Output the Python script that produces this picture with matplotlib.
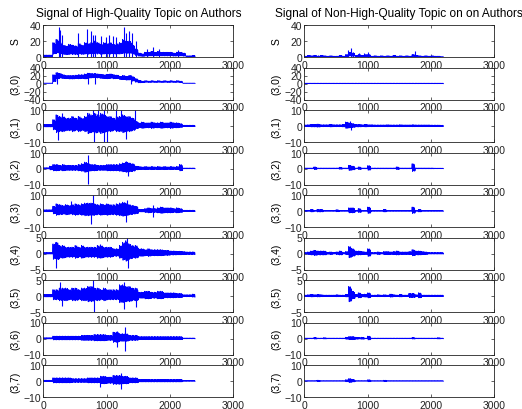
import matplotlib
matplotlib.use("Agg")
import matplotlib.pyplot as plt
import numpy as np

plt.rcParams['font.family'] = ['Liberation Sans', 'DejaVu Sans']

BIN = 50  # width of each envelope bin along x

titles = ["Signal of High-Quality Topic on Authors",
          "Signal of Non-High-Quality Topic on on Authors"]
row_labels = ["S", "(3,0)", "(3,1)", "(3,2)", "(3,3)", "(3,4)", "(3,5)", "(3,6)", "(3,7)"]
ylims = [(0, 40), (-40, 40), (-10, 10), (-10, 10), (-10, 10), (-5, 5), (-5, 5), (-10, 10), (-10, 10)]
yticks = [[0, 20, 40], [-40, -20, 0, 20, 40], [-10, 0, 10], [-10, 0, 10], [-10, 0, 10],
          [-5, 0, 5], [-5, 0, 5], [-10, 0, 10], [-10, 0, 10]]
xticks = [0, 1000, 2000, 3000]

# ---------------- Left column (high quality), 48 bins: 0..2400 ----------------
L_S_hi = [2.5, 2.5, 2.5, 18, 22, 18, 15, 14, 16, 15, 14, 17, 15, 18, 17, 18, 20, 18, 16, 18,
          17, 18, 16, 17, 18, 22, 20, 20, 15, 10, 5, 4, 6, 6, 7, 6, 7, 6, 6, 6,
          6, 5, 6, 6, 5, 1.5, 1.5, 2]
L_S_lo = [0] * 48
L_S_spx = [250, 270, 300, 545, 690, 750, 780, 810, 905, 985, 1035, 1095, 1150, 1270, 1305, 1360, 1400, 1460, 1640, 1730, 1820, 2130]
L_S_spy = [38, 34, 28, 30, 35, 33, 27, 28, 26, 25, 28, 26, 25, 37, 30, 33, 30, 20, 10, 12, 10, 9]

L_30_hi = [1, 1, 1, 22, 27, 25, 22, 20, 20, 20, 21, 22, 22, 24, 26, 25, 25, 24, 23, 22,
           23, 24, 22, 21, 18, 20, 18, 20, 17, 12, 8, 6, 7, 6, 7, 6, 7, 6, 7, 6,
           7, 6, 7, 6, 1, 1, 1, 1]
L_30_lo = [0, 0, 0, 0, 8, 10, 10, 10, 9, 9, 10, 9, 10, 8, 10, 11, 12, 11, 10, 10,
           9, 10, 9, 10, 8, 7, 6, 6, 3, 1, 0, 1, 2, 2, 2, 2, 2, 2, 2, 2,
           2, 2, 2, 1, 0, 0, 0, 0]
L_30_spx = [220, 700, 820, 1380]
L_30_spy = [28, 26, 26, 22]

L_31_amp = [1, 1, 1, 4, 7, 6, 6, 5, 5, 6, 5, 6, 5, 6, 8, 7, 8, 7, 8, 7,
            6, 6, 5, 6, 6, 7, 6, 6, 5, 3, 2, 2.5, 2, 2, 2.5, 2, 2, 2.5, 2, 2,
            2.5, 2, 2, 1.5, 0.5, 0.5, 0.5, 0.5]
L_31_spx = [240, 290, 780, 800, 860, 960, 965, 1010, 1150, 1230, 1300, 1440]
L_31_spy = [-9, 8, 10, -10, 10, -10, 10, -10, 10, 10, -8, 10]

L_32_amp = [0.5, 0.5, 1.5, 2.5, 2.5, 2, 2.5, 2, 2, 2, 2, 2.5, 3, 4, 3, 2.5, 2.5, 2, 2, 2,
            2.5, 2.5, 2.5, 2.5, 3, 3.5, 4, 3.5, 3, 1.5, 1.2, 1, 1.2, 1, 1.2, 1, 1.2, 1, 1.2, 1,
            1.2, 1, 1.2, 2.5, 0.3, 0.3, 0.3, 0.3]
L_32_spx = [700, 705, 1310, 1330]
L_32_spy = [8.5, -9.5, 4.5, -4.5]

L_33_amp = [0.8, 0.8, 0.8, 3, 4.5, 4, 3.5, 4, 3.5, 4, 4.5, 4, 4.5, 5, 5, 5, 4.5, 4, 4.5, 4,
            4.5, 4, 4, 4.5, 5, 5.5, 5, 4, 3.5, 3, 1, 1, 1.5, 2, 1.5, 1.5, 2, 2.5, 2, 2,
            2, 1.5, 2, 1.5, 0.5, 0.5, 0.5, 0.5]
L_33_spx = [440, 760, 780, 1310, 1320, 1730, 1735]
L_33_spy = [6, -8, 10, -7, 7, 4, -4]

L_34_amp = [0.3, 0.3, 0.3, 3, 3.5, 2.5, 2.5, 2, 2, 2, 2.5, 2, 2.5, 2, 2, 2, 2, 2.5, 2.5, 2,
            2, 2, 1.5, 1.5, 2.5, 3.5, 4, 3, 2.5, 2.5, 1.5, 1.5, 1.2, 1.5, 1.2, 1.2, 1.2, 1.2, 1, 1,
            0.8, 0.8, 0.7, 0.7, 0.6, 0.5, 0.5, 0.5]
L_34_spx = [190, 200, 900, 1320, 1340]
L_34_spy = [3.6, -4.5, 3, 4.7, -4.5]

L_35_amp = [0.5, 0.5, 0.5, 2, 2, 2.5, 2.5, 2.5, 2, 2.5, 2.5, 2, 2.5, 2.5, 3, 3, 2.5, 2.5, 2, 2.5,
            2, 2, 2, 2, 3.5, 3.5, 3, 3, 2.5, 2.5, 1.2, 1.2, 1.5, 1.5, 1.2, 1.2, 1.5, 1.5, 1, 1,
            1, 1, 0.8, 0.8, 0.4, 0.4, 0.4, 0.6]
L_35_spx = [260, 300, 790, 795, 1270, 1280, 1460]
L_35_spy = [4.5, -3, 5, -5, 4.5, -4, -3.5]

L_36_amp = [0.5, 0.5, 0.5, 1.5, 1.5, 1.5, 1.5, 1.5, 1.5, 1.5, 1.5, 1.5, 2, 2, 2, 2, 2.5, 2.5, 2.5, 2.5,
            2, 2, 4, 4, 3, 3, 3, 2, 2, 2, 1.2, 1.2, 1.2, 1.2, 1.2, 1.2, 1.2, 1.2, 1.2, 1.2,
            1.2, 1.2, 1.2, 1.2, 0.3, 0.3, 0.3, 0.3]
L_36_spx = [1160, 1170, 1290, 1295]
L_36_spy = [5, -5, 7.5, -8]

L_37_amp = [0.5, 0.5, 0.5, 2, 2, 2, 2, 2, 2, 1.5, 1.5, 1.5, 1.5, 1.5, 2, 2, 2, 2, 3, 3,
            2.5, 2.5, 3.5, 3.5, 3.5, 3, 3, 2, 2, 2, 1, 1, 1, 1, 1, 1, 1, 1, 1, 1,
            1, 1, 1, 1, 0.3, 0.3, 0.3, 0.3]
L_37_spx = [900, 1220, 1230]
L_37_spy = [-4, 5, -5]

# ---------------- Right column (non high quality), 44 bins: 0..2200 ----------------
R_S_hi = [1, 2, 1.5, 2, 1, 2, 1.5, 1, 1.5, 1, 1, 2, 1, 3, 6, 5, 2, 3, 2, 3,
          3, 1, 1.5, 1, 1.5, 1, 1.5, 1, 2, 1, 1.5, 1, 1.5, 1, 3, 2, 1.5, 1, 1.5, 1,
          1.5, 1, 1, 0.5]
R_S_lo = [0] * 44
R_S_spx = [220, 560, 690, 740, 770, 860, 950, 1000, 1750]
R_S_spy = [3, 3, 9, 11, 6, 5, 5, 6, 7]

R_30_hi = [0.8] * 44
R_30_lo = [-0.8] * 44
R_30_spx = []
R_30_spy = []

R_31_amp = [0.7, 0.8, 1, 1, 1.2, 0.8, 0.8, 0.8, 1, 0.8, 0.8, 0.8, 1, 2.5, 2, 1.5, 1, 1, 0.8, 1,
            0.8, 0.8, 0.7, 0.7, 0.7, 0.7, 0.8, 0.7, 0.7, 0.7, 0.8, 0.7, 0.7, 0.7, 0.8, 0.7, 0.7, 0.7, 0.7, 0.7,
            0.6, 0.6, 0.6, 0.5]
R_31_spx = [720, 740]
R_31_spy = [3, -2.5]

R_32_amp = [0.3, 0.3, 0.3, 1, 0.3, 0.3, 0.3, 0.3, 0.3, 0.3, 0.3, 0.8, 0.3, 0.3, 2, 1.5, 0.3, 1, 0.3, 0.3,
            1.8, 0.3, 0.3, 0.3, 0.3, 0.3, 0.3, 0.3, 0.3, 1, 0.3, 0.3, 0.3, 0.3, 3, 0.3, 0.3, 0.3, 0.3, 0.3,
            0.3, 0.2, 0.2, 0.2]
R_32_spx = []
R_32_spy = []

R_33_amp = [0.3, 0.3, 1, 0.3, 1, 1, 0.3, 0.3, 0.3, 0.3, 0.8, 0.3, 0.3, 0.3, 2, 2, 0.3, 1.5, 0.3, 0.3,
            2.5, 0.3, 0.3, 0.3, 0.3, 1, 0.3, 0.3, 0.3, 0.3, 0.3, 0.3, 0.3, 0.3, 2.5, 0.3, 1, 0.3, 0.3, 0.3,
            0.3, 0.3, 0.3, 0.3]
R_33_spx = []
R_33_spy = []

R_34_amp = [0.3, 0.5, 0.8, 1, 0.8, 0.8, 0.8, 0.4, 0.5, 0.3, 0.5, 0.8, 0.3, 0.6, 2.2, 1.5, 0.8, 0.8, 0.6, 0.5,
            1.5, 0.3, 0.3, 0.5, 0.3, 0.6, 0.6, 0.5, 0.6, 0.8, 0.5, 0.5, 0.5, 0.6, 1.2, 0.8, 0.8, 0.6, 0.5, 0.3,
            0.3, 0.3, 0.3, 0.3]
R_34_spx = []
R_34_spy = []

R_35_amp = [0.3, 0.4, 0.5, 0.4, 0.5, 0.4, 0.3, 0.3, 0.3, 0.3, 0.4, 0.3, 0.3, 0.5, 3, 1.5, 0.5, 1, 0.5, 0.6,
            1, 0.3, 0.3, 0.4, 0.3, 0.4, 0.3, 0.6, 0.4, 0.3, 0.5, 0.3, 0.3, 0.8, 0.8, 0.4, 1, 0.3, 0.3, 0.3,
            0.3, 0.3, 0.3, 0.3]
R_35_spx = []
R_35_spy = []

R_36_amp = [0.25, 0.25, 0.25, 0.6, 0.25, 0.25, 0.5, 0.25, 0.25, 0.25, 0.25, 0.25, 0.25, 0.8, 1.2, 1.2, 0.8, 0.6, 0.8, 0.25,
            1.5, 0.25, 0.25, 0.25, 0.25, 0.25, 0.25, 0.25, 0.25, 0.25, 0.25, 0.25, 0.25, 0.25, 0.6, 0.25, 0.25, 0.25, 0.25, 0.25,
            0.25, 0.25, 0.5, 0.25]
R_36_spx = []
R_36_spy = []

R_37_amp = [0.2, 0.2, 0.2, 0.2, 0.5, 0.2, 0.2, 0.2, 0.2, 0.2, 0.2, 0.2, 0.2, 0.8, 1.5, 1, 0.2, 0.2, 0.2, 0.2,
            0.8, 0.2, 0.2, 0.2, 0.2, 0.5, 0.2, 0.2, 0.2, 0.2, 0.2, 0.2, 0.2, 0.2, 0.2, 0.2, 0.2, 0.2, 0.2, 0.2,
            0.2, 0.2, 0.2, 0.2]
R_37_spx = []
R_37_spy = []


def sym(amp):
    return list(amp), [-a for a in amp]


left = [(L_S_hi, L_S_lo, L_S_spx, L_S_spy),
        (L_30_hi, L_30_lo, L_30_spx, L_30_spy),
        (*sym(L_31_amp), L_31_spx, L_31_spy),
        (*sym(L_32_amp), L_32_spx, L_32_spy),
        (*sym(L_33_amp), L_33_spx, L_33_spy),
        (*sym(L_34_amp), L_34_spx, L_34_spy),
        (*sym(L_35_amp), L_35_spx, L_35_spy),
        (*sym(L_36_amp), L_36_spx, L_36_spy),
        (*sym(L_37_amp), L_37_spx, L_37_spy)]
right = [(R_S_hi, R_S_lo, R_S_spx, R_S_spy),
         (R_30_hi, R_30_lo, R_30_spx, R_30_spy),
         (*sym(R_31_amp), R_31_spx, R_31_spy),
         (*sym(R_32_amp), R_32_spx, R_32_spy),
         (*sym(R_33_amp), R_33_spx, R_33_spy),
         (*sym(R_34_amp), R_34_spx, R_34_spy),
         (*sym(R_35_amp), R_35_spx, R_35_spy),
         (*sym(R_36_amp), R_36_spx, R_36_spy),
         (*sym(R_37_amp), R_37_spx, R_37_spy)]

W, H = 522, 410
fig = plt.figure(figsize=(W / 100, H / 100), dpi=100)
BLUE = '#0000ff'
FS = 7.5

col_left_px = [43.3, 304.3]
ax_w_px = 190
ax_h_px = 32
row_top_px = [26 + 42.5 * k for k in range(9)]

# fixed oscillation pattern used to render each envelope bin as a dense trace
PATTERN = [1.0, 0.6, 0.85, 0.45, 0.95, 0.55, 0.75, 0.5]


def draw_signal(ax, hi, lo, spx, spy):
    xs, ys = [], []
    K = len(PATTERN)
    for i, (h, l) in enumerate(zip(hi, lo)):
        mid = (h + l) / 2.0
        half = (h - l) / 2.0
        for j, f in enumerate(PATTERN):
            xs.append(BIN * i + BIN * (j + 0.5) / K)
            sign = 1 if j % 2 == 0 else -1
            ys.append(mid + sign * half * f)
    ax.plot(xs, ys, color=BLUE, lw=0.6)
    if spx:
        ax.vlines(spx, 0, spy, color=BLUE, lw=0.8)


for c, data in enumerate([left, right]):
    for r in range(9):
        top = row_top_px[r]
        ax = fig.add_axes([col_left_px[c] / W, 1 - (top + ax_h_px) / H, ax_w_px / W, ax_h_px / H])
        hi, lo, spx, spy = data[r]
        draw_signal(ax, hi, lo, spx, spy)
        ax.set_xlim(0, 3000)
        ax.set_ylim(*ylims[r])
        ax.set_xticks(xticks)
        ax.set_yticks(yticks[r])
        ax.tick_params(direction='in', top=True, right=True, length=2.5, width=0.5,
                       labelsize=FS, pad=1.5, colors='#222222')
        ax.tick_params(axis='x', pad=2)
        for s in ax.spines.values():
            s.set_linewidth(0.6)
            s.set_color('#222222')
        ax.set_ylabel(row_labels[r], fontsize=FS)
        ax.yaxis.set_label_coords(-0.122, 0.5)
        if r == 0:
            ax.set_title(titles[c], fontsize=8.6, pad=6.5)

fig.savefig('out.png', dpi=100)
